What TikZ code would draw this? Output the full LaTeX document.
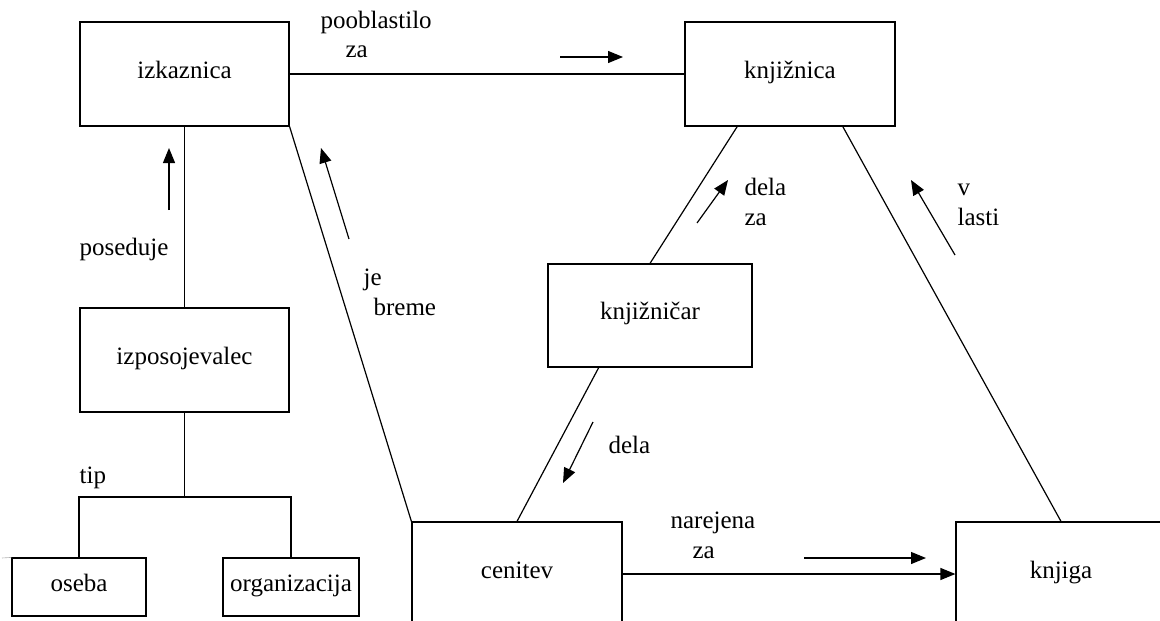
\documentclass[tikz,border=0pt]{standalone}
\usepackage{fontspec}
\setmainfont{Liberation Serif}
\usetikzlibrary{arrows.meta,calc}
\begin{document}
\begin{tikzpicture}[x=1pt,y=-1pt, line width=1.2pt,
  every node/.style={font=\fontsize{25}{29}\selectfont},
  box/.style={draw, rectangle, inner sep=0pt, text height=0.9em, text depth=0.1em},
  lbl/.style={anchor=base west, inner sep=0pt},
  arr/.style={-{Triangle[length=15pt,width=12pt]}}]
\useasboundingbox (0,0) rectangle (1160,621);
% boxes
\node[box, minimum width=209pt, minimum height=104pt] (izk) at (184.5,74) {izkaznica};
\node[box, minimum width=210pt, minimum height=104pt] (knjz) at (790,74) {knjižnica};
\node[box, minimum width=209pt, minimum height=104pt] (izp) at (184.5,360) {izposojevalec};
\node[box, minimum width=204pt, minimum height=103pt] (knjr) at (650,315.5) {knjižničar};
\node[box, minimum width=134pt, minimum height=58pt] (oseba) at (79,587) {oseba};
\node[box, minimum width=136pt, minimum height=58pt] (org) at (291,587) {organizacija};
\node[box, minimum width=210pt, minimum height=104pt] (cen) at (517,574) {cenitev};
\node[box, minimum width=210pt, minimum height=104pt] (knjiga) at (1061,574) {knjiga};
% connectors
\draw (izk.east) -- (knjz.west);
\draw (izk.south) -- (izp.north);
\coordinate (tipj) at (184.5,497);
\draw (izp.south) -- (tipj);
\draw (oseba.north) |- (tipj) -| (org.north);
\draw (izk.south east) -- (cen.north west);
\draw ($(knjz.south west)!0.25!(knjz.south east)$) -- (knjr.north);
\draw ($(knjr.south west)!0.25!(knjr.south east)$) -- (cen.north);
\draw ($(knjz.south west)!0.75!(knjz.south east)$) -- (knjiga.north);
\draw[arr] (cen.east) -- (knjiga.west);
\coordinate (tick) at (2,558);
\draw[gray!60, line width=0.6pt] (tick) -- (oseba.north west);
% direction arrows
\coordinate (a1s) at (560,57);  \coordinate (a1e) at (623,57);
\coordinate (a2s) at (169,210); \coordinate (a2e) at (169,148);
\coordinate (a3s) at (349,239); \coordinate (a3e) at (321,148);
\coordinate (a4s) at (697,223); \coordinate (a4e) at (728,180);
\coordinate (a5s) at (955,255); \coordinate (a5e) at (911,180);
\coordinate (a6s) at (593,422); \coordinate (a6e) at (563,483);
\coordinate (a7s) at (804,558); \coordinate (a7e) at (926,558);
\draw[arr] (a1s) -- (a1e);
\draw[arr] (a2s) -- (a2e);
\draw[arr] (a3s) -- (a3e);
\draw[arr] (a4s) -- (a4e);
\draw[arr] (a5s) -- (a5e);
\draw[arr] (a6s) -- (a6e);
\draw[arr] (a7s) -- (a7e);
% labels
\node[lbl] (l1a) at (320,28) {pooblastilo};
\node[lbl] (l1b) at (345,57) {za};
\node[lbl] (l2) at (79,255) {poseduje};
\node[lbl] (l3) at (79,483) {tip};
\node[lbl] (l4a) at (363,285) {je};
\node[lbl] (l4b) at (373,315) {breme};
\node[lbl] (l5a) at (744,195) {dela};
\node[lbl] (l5b) at (744,225) {za};
\node[lbl] (l6a) at (957,195) {v};
\node[lbl] (l6b) at (957,225) {lasti};
\node[lbl] (l7) at (608,453) {dela};
\node[lbl] (l8a) at (670,528) {narejena};
\node[lbl] (l8b) at (692,558) {za};
\end{tikzpicture}
\end{document}
